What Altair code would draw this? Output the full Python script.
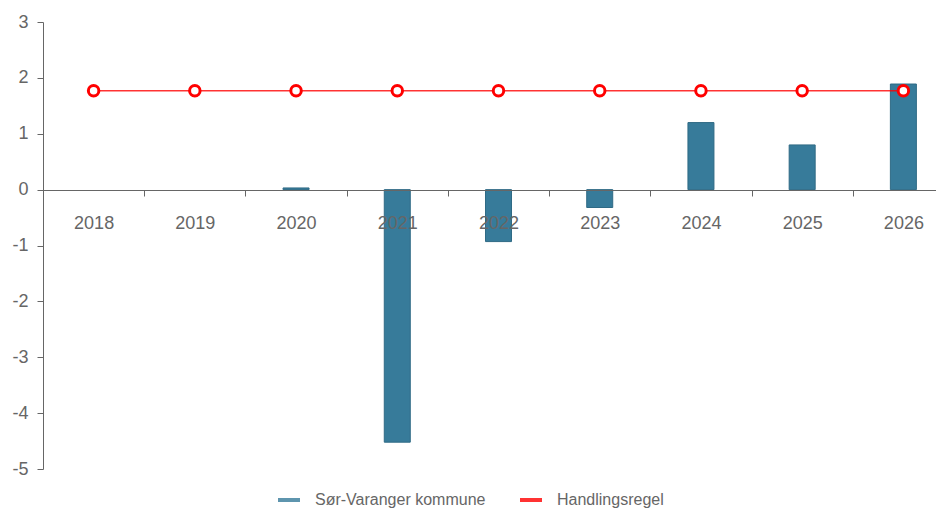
import altair as alt
import pandas as pd

years = ["2018", "2019", "2020", "2021", "2022", "2023", "2024", "2025", "2026"]
kommune = [None, None, 0.03, -4.52, -0.93, -0.32, 1.2, 0.8, 1.89]
handlingsregel = [1.77, 1.77, 1.77, 1.77, 1.77, 1.77, 1.77, 1.77, 1.77]
series_names = ["Sør-Varanger kommune", "Handlingsregel"]
series_colors = ["#377b9a", "#ff0000"]
y_ticks = [-5, -4, -3, -2, -1, 0, 1, 2, 3]

df = pd.DataFrame({"year": years, "kommune": kommune, "regel": handlingsregel})

FONT = "Liberation Sans"
GREY = "#666666"

x_enc = alt.X(
    "year:N",
    title=None,
    sort=years,
    scale=alt.Scale(paddingInner=0, paddingOuter=0, range=[0, 911]),
    axis=alt.Axis(
        offset=-279,
        zindex=1,
        labelAngle=0,
        tickBand="extent",
        tickSize=6,
        labelPadding=18,
        labelFontSize=18,
        labelFont=FONT,
        labelColor=GREY,
        domainColor=GREY,
        tickColor=GREY,
        grid=False,
    ),
)

y_scale = alt.Scale(domain=[-5, 3], nice=False, zero=False)
y_axis = alt.Axis(
    values=y_ticks,
    labelExpr="'' + datum.value",
    title=None,
    grid=False,
    tickSize=6,
    labelPadding=9,
    labelFontSize=18,
    labelFont=FONT,
    labelColor=GREY,
    domainColor=GREY,
    tickColor=GREY,
)

color_scale = alt.Scale(domain=series_names, range=series_colors)
legend = alt.Legend(
    title=None,
    orient="none",
    legendX=233,
    legendY=465,
    direction="horizontal",
    symbolType="stroke",
    symbolStrokeWidth=4,
    symbolSize=484,
    labelFontSize=16,
    labelFont=FONT,
    labelColor=GREY,
    labelLimit=0,
    labelOffset=13,
    columnPadding=26,
)

bars = alt.Chart(df).mark_bar(size=26, color=series_colors[0], stroke="#2f6a85", strokeWidth=1).encode(
    x=x_enc,
    y=alt.Y("kommune:Q", scale=y_scale, axis=y_axis),
)

line = alt.Chart(df).transform_calculate(series="'" + series_names[1] + "'").mark_line(
    strokeWidth=1.5, opacity=0.8
).encode(
    x=alt.X("year:N", sort=years),
    y=alt.Y("regel:Q", scale=y_scale),
    color=alt.Color("series:N", scale=color_scale, legend=legend),
)

points = alt.Chart(df).mark_point(
    filled=True, fill="white", stroke="#ff0000", strokeWidth=3, size=110, opacity=1
).encode(
    x=alt.X("year:N", sort=years),
    y=alt.Y("regel:Q", scale=y_scale),
)

chart = (
    alt.layer(bars, line, points)
    .properties(
        width=893,
        height=447,
        padding={"left": 35, "top": 14, "right": 0, "bottom": 41},
        autosize=alt.AutoSizeParams(type="none"),
        background="white",
    )
    .configure_view(stroke=None)
)

chart.save("out.html", embed_options={"renderer": "svg", "actions": False})
